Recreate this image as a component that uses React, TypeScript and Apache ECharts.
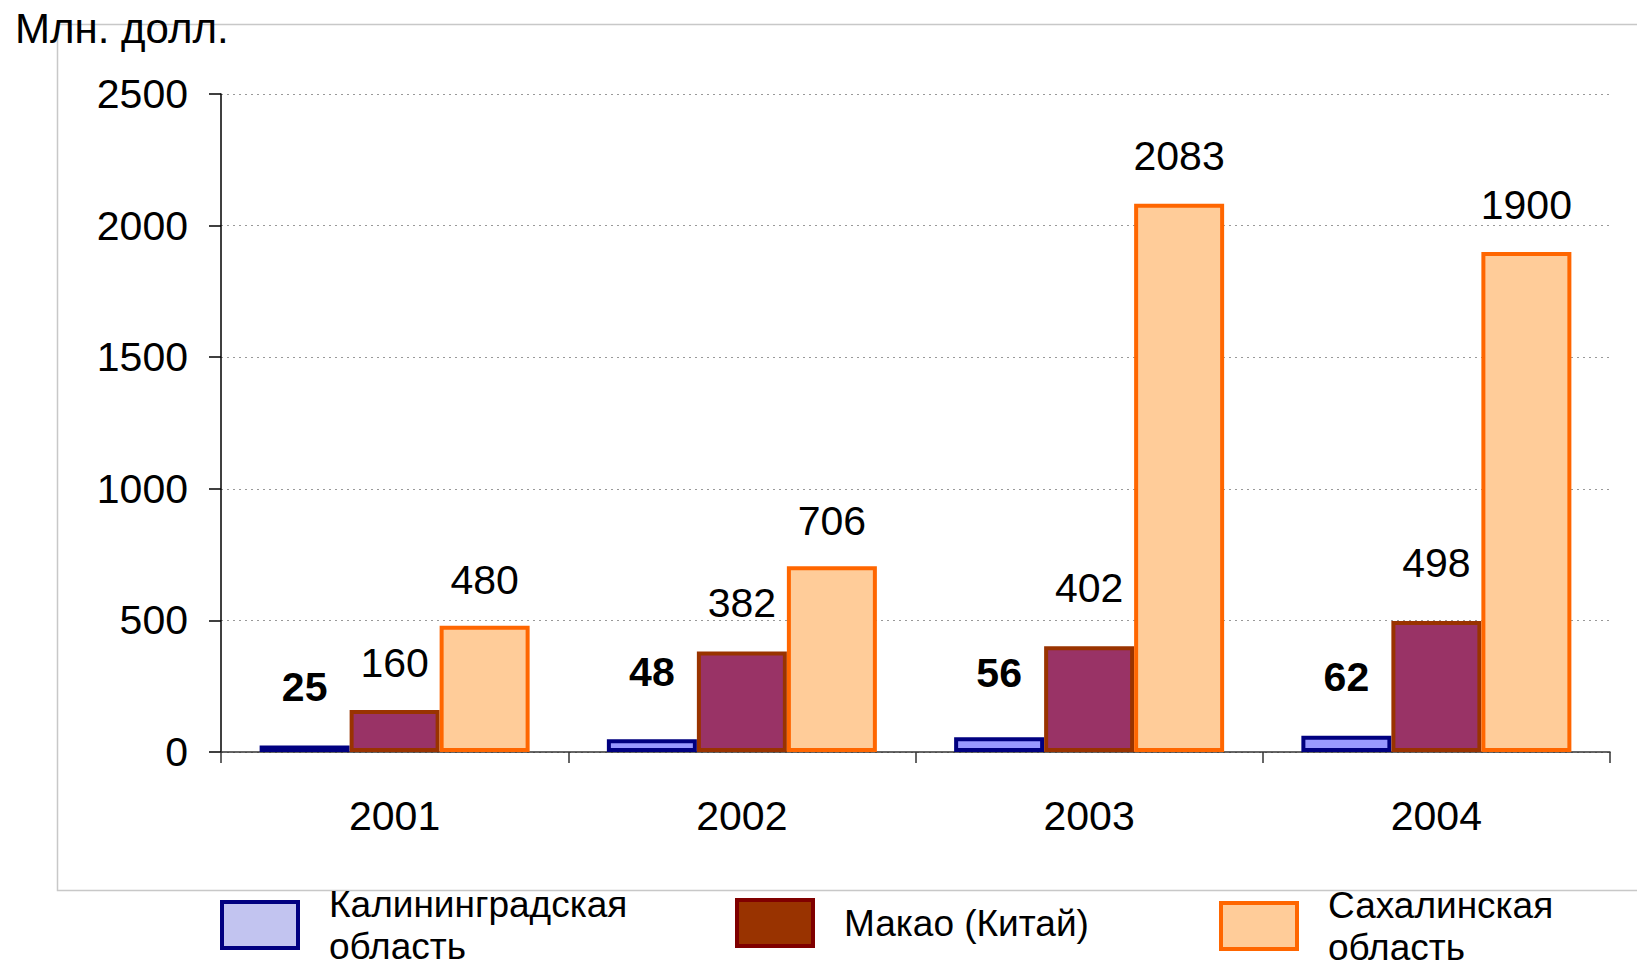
import React, { useEffect, useRef } from "react";
import * as echarts from "echarts";

const categories = ["2001", "2002", "2003", "2004"];
const kaliningrad = [25, 48, 56, 62];
const macao = [160, 382, 402, 498];
const sakhalin = [480, 706, 2083, 1900];
const seriesNames = ["Калининградская область", "Макао (Китай)", "Сахалинская область"];
const yTitle = "Млн. долл.";

// label distances above bars (layout, not data)
const kalDist = [38, 47, 44, 38];
const macDist = [26, 28, 38, 37];
const sakDist = [25, 25, 27, 26];

const FONT = "'Liberation Sans', Arial, sans-serif";

export default function App() {
  const ref = useRef<HTMLDivElement>(null);
  useEffect(() => {
    if (!ref.current) return;
    const chart = echarts.init(ref.current, null, { renderer: "svg" });
    const labelBase = { show: true, position: "top", color: "#000", fontSize: 41, fontFamily: FONT };
    const withDist = (vals: number[], dists: number[]) =>
      vals.map((v, i) => ({ value: v, label: { distance: dists[i] } }));
    const legendBase = {
      orient: "horizontal",
      icon: "rect",
      itemWidth: 76,
      itemHeight: 46,
      selectedMode: false,
      textStyle: { fontSize: 37, fontFamily: FONT, color: "#000", lineHeight: 42, padding: [0, 0, 0, 26] },
      formatter: (n: string) => n.replace(" ", "\n"),
    };
    chart.setOption({
      animation: false,
      backgroundColor: "#fff",
      graphic: [
        {
          type: "rect",
          left: 55,
          top: 22,
          shape: { width: 1600, height: 866 },
          style: { fill: "none", stroke: "#c8c8c8", lineWidth: 1.5 },
          z: 0,
        },
        {
          type: "text",
          left: 15,
          top: 7,
          style: { text: yTitle, font: `42px ${FONT}`, fill: "#000" },
          z: 10,
        },
      ],
      grid: { left: 221, right: 27, top: 94, bottom: 213, containLabel: false },
      xAxis: {
        type: "category",
        data: categories,
        axisLine: { lineStyle: { color: "#333", width: 1.5 } },
        axisTick: { show: true, length: 11, lineStyle: { color: "#333", width: 1.5 } },
        axisLabel: { color: "#000", fontSize: 41, fontFamily: FONT, margin: 43 },
      },
      yAxis: {
        type: "value",
        min: 0,
        max: 2500,
        interval: 500,
        axisLine: { show: true, lineStyle: { color: "#000", width: 1.5 } },
        axisTick: { show: true, length: 12, lineStyle: { color: "#000", width: 1.5 } },
        axisLabel: { color: "#000", fontSize: 41, fontFamily: FONT, margin: 33, formatter: (v: number) => String(v) },
        splitLine: { show: true, lineStyle: { color: "#999", type: [2, 4], width: 1 } },
      },
      legend: [
        {
          ...legendBase,
          left: 215,
          top: 878,
          data: [
            { name: seriesNames[0], itemStyle: { color: "#c2c4f0", borderColor: "#000080", borderWidth: 4 } },
          ],
        },
        {
          ...legendBase,
          left: 730,
          top: 893,
          data: [
            { name: seriesNames[1], itemStyle: { color: "#993300", borderColor: "#800000", borderWidth: 4 } },
          ],
          formatter: (n: string) => n,
        },
        {
          ...legendBase,
          left: 1214,
          top: 879,
          data: [
            { name: seriesNames[2], itemStyle: { color: "#ffcc99", borderColor: "#ff6600", borderWidth: 4 } },
          ],
        },
      ],
      series: [
        {
          name: seriesNames[0],
          type: "bar",
          data: withDist(kaliningrad, kalDist),
          barWidth: 90,
          barGap: "0%",
          itemStyle: { color: "#9999ff", borderColor: "#000080", borderWidth: 4 },
          label: { ...labelBase, fontWeight: "bold" },
        },
        {
          name: seriesNames[1],
          type: "bar",
          data: withDist(macao, macDist),
          barWidth: 90,
          barGap: "0%",
          itemStyle: { color: "#993366", borderColor: "#993300", borderWidth: 4 },
          label: { ...labelBase },
        },
        {
          name: seriesNames[2],
          type: "bar",
          data: withDist(sakhalin, sakDist),
          barWidth: 90,
          barGap: "0%",
          itemStyle: { color: "#ffcc99", borderColor: "#ff6600", borderWidth: 4 },
          label: { ...labelBase },
        },
      ],
    });
    return () => chart.dispose();
  }, []);
  return (
    <div
      ref={ref}
      style={{ position: "fixed", left: 0, top: 0, width: 1637, height: 965, background: "#fff" }}
    />
  );
}
